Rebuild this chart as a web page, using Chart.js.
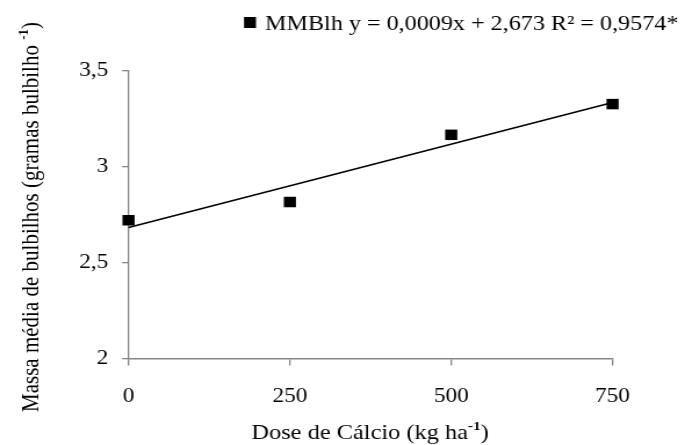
<!DOCTYPE html>
<html>
<head>
<meta charset="utf-8">
<script src="https://cdn.jsdelivr.net/npm/chart.js@4/dist/chart.umd.min.js"></script>
<style>
  html, body { margin: 0; padding: 0; background: #fff; }
  #lineChart { display: block; }
</style>
</head>
<body>
<!-- the source figure is stretched sideways, so the canvas is drawn narrower and widened by CSS -->
<canvas id="lineChart" width="590" height="445" style="width:685px;height:445px"></canvas>
<script>
// data
const doses = [0, 250, 500, 750];
const massa = [2.72, 2.815, 3.165, 3.325];
const trendX = [0, 750];
const trendY = [2.682, 3.333];
const xTicks = [0, 250, 500, 750];
const yTicks = [2, 2.5, 3, 3.5];
const seriesName = 'MMBlh';
const legendText = 'MMBlh y = 0,0009x + 2,673 R² = 0,9574*';
const xTitle = [{ t: 'Dose de Cálcio (kg ha' }, { t: '-1', sup: true }, { t: ')' }];
const yTitle = [{ t: 'Massa média de bulbilhos (gramas bulbilho ' }, { t: '-1', sup: true }, { t: ')' }];

const FONT = 'Liberation Serif';
const axisColor = '#858585';
const fmt = v => String(v).replace('.', ',');

// draws a row of text pieces centred on cx, superscripts smaller and raised
function drawRuns(ctx, runs, cx, baseY, size) {
  const pieces = runs.map(r => {
    const f = r.sup ? `bold ${Math.round(size * 0.62)}px "${FONT}"` : `${size}px "${FONT}"`;
    ctx.font = f;
    return { t: r.t, f, w: ctx.measureText(r.t).width, sup: r.sup };
  });
  const total = pieces.reduce((s, p) => s + p.w, 0);
  let x = cx - total / 2;
  ctx.textBaseline = 'alphabetic';
  ctx.textAlign = 'left';
  pieces.forEach(p => {
    ctx.font = p.f;
    ctx.fillText(p.t, x, p.sup ? baseY - size * 0.45 : baseY);
    x += p.w;
  });
}

const textPlugin = {
  id: 'textPlugin',
  afterDraw(chart) {
    const ctx = chart.ctx;
    ctx.save();
    ctx.fillStyle = '#000';
    // legend
    ctx.fillRect(210.2, 17, 10.3, 11);
    ctx.font = `21.5px "${FONT}"`;
    ctx.textBaseline = 'alphabetic';
    ctx.textAlign = 'left';
    ctx.fillText(legendText, 228.3, 30, 356);
    // x title
    drawRuns(ctx, xTitle, 318.7, 439, 21);
    // y title
    ctx.translate(33, 217);
    ctx.rotate(-Math.PI / 2);
    drawRuns(ctx, yTitle, 0, 0, 21);
    ctx.restore();
  }
};

function build() {
  new Chart(document.getElementById('lineChart'), {
    type: 'scatter',
    data: {
      datasets: [
        {
          label: seriesName,
          data: doses.map((x, i) => ({ x, y: massa[i] })),
          pointStyle: 'rect',
          pointRadius: 7.4,
          pointHoverRadius: 7.4,
          backgroundColor: '#000',
          borderColor: '#000',
          borderWidth: 0,
          clip: false,
          order: 0,
        },
        {
          type: 'line',
          label: 'trend',
          data: trendX.map((x, i) => ({ x, y: trendY[i] })),
          borderColor: '#000',
          borderWidth: 1.6,
          pointRadius: 0,
          fill: false,
          clip: false,
          order: 1,
        },
      ],
    },
    options: {
      responsive: false,
      animation: false,
      devicePixelRatio: 1,
      layout: { padding: { left: 0, right: 62.4, top: 70.5, bottom: 0 } },
      plugins: { legend: { display: false }, tooltip: { enabled: false } },
      scales: {
        x: {
          type: 'linear',
          min: 0,
          max: 750,
          afterBuildTicks: s => { s.ticks = xTicks.map(value => ({ value })); },
          afterFit: s => { s.height = 86.5; },
          grid: { drawOnChartArea: false, drawTicks: true, tickLength: 7, color: axisColor, lineWidth: 1.3 },
          border: { color: axisColor, width: 1.5 },
          ticks: { color: '#000', font: { family: FONT, size: 20 }, padding: 19, callback: fmt, maxRotation: 0 },
        },
        y: {
          min: 2,
          max: 3.5,
          afterBuildTicks: s => { s.ticks = yTicks.map(value => ({ value })); },
          afterFit: s => { s.width = 110.7; },
          grid: { drawOnChartArea: false, drawTicks: true, tickLength: 5.5, color: axisColor, lineWidth: 1.3 },
          border: { color: axisColor, width: 1.3 },
          ticks: { color: '#000', font: { family: FONT, size: 20 }, padding: 12, callback: fmt },
        },
      },
    },
    plugins: [textPlugin],
  });
}

if (document.fonts && document.fonts.load) {
  document.fonts.load(`20px "${FONT}"`).then(build, build);
} else {
  build();
}
</script>
</body>
</html>
